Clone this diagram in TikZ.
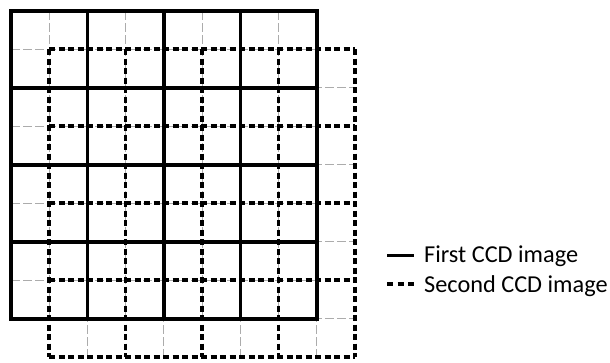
\documentclass[tikz,border=0pt]{standalone}
\usepackage{fontspec}
\setmainfont{Carlito}
\begin{document}
\begin{tikzpicture}[x=1pt,y=-1pt,
  thinline/.style={draw=gray!65, line width=0.8pt, dash pattern=on 9pt off 3pt},
  firstline/.style={draw=black, line width=3.4pt, line cap=rect},
  secondline/.style={draw=black, line width=3.2pt, dash pattern=on 6pt off 3.5pt},
  legtext/.style={anchor=base west, inner sep=0pt, font=\fontsize{24.3}{28}\selectfont}]
\useasboundingbox (0,0) rectangle (610,362);
% thin subdivision of the first grid
\foreach \i in {0,...,3} {
  \draw[thinline] ({11+76.5*\i+38.25},11) -- ({11+76.5*\i+38.25},319);
  \draw[thinline] (11,{11+77*\i+38.5}) -- (317,{11+77*\i+38.5});
}
% thin subdivision of the second grid
\foreach \i in {0,...,3} {
  \draw[thinline] ({49+76.5*\i+38.25},49) -- ({49+76.5*\i+38.25},357);
  \draw[thinline] (49,{49+77*\i+38.5}) -- (355,{49+77*\i+38.5});
}
% second CCD image (dashed)
\foreach \i in {0,...,4} {
  \draw[secondline] ({49+76.5*\i},49) -- ({49+76.5*\i},357);
  \draw[secondline] (49,{49+77*\i}) -- (355,{49+77*\i});
}
% first CCD image (solid)
\foreach \i in {0,...,4} {
  \draw[firstline] ({11+76.5*\i},11) -- ({11+76.5*\i},319);
  \draw[firstline] (11,{11+77*\i}) -- (317,{11+77*\i});
}
% legend
\node[legtext] (t1) at (424,262) {First CCD image};
\node[legtext] (t2) at (424,292) {Second CCD image};
\coordinate (a1) at (387,255);
\coordinate (b1) at (414,255);
\coordinate (a2) at (387,284);
\coordinate (b2) at (414,284);
\draw[draw=black, line width=3pt] (a1) -- (b1);
\draw[draw=black, line width=3.2pt, dash pattern=on 6pt off 4.5pt] (a2) -- (b2);
\end{tikzpicture}
\end{document}
